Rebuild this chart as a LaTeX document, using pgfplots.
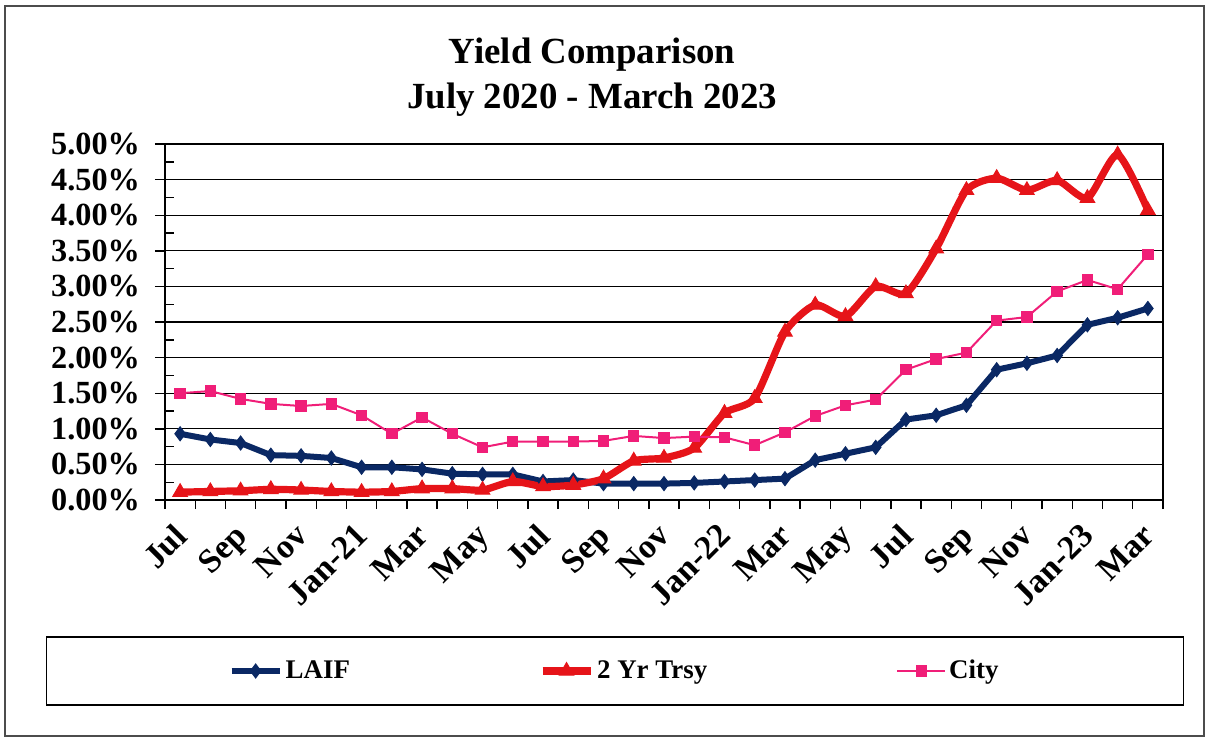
\documentclass[border=0pt]{standalone}
\usepackage{pgfplots}
\pgfplotsset{compat=1.18}
\usepackage{pgfplotstable}
\usepackage{fontspec}
\setmainfont{Liberation Serif}

\definecolor{laif}{RGB}{10,40,100}
\definecolor{trsy}{RGB}{230,20,25}
\definecolor{city}{RGB}{240,30,120}

% month index from Jul 2020 (0) to Mar 2023 (32), yields in percent
\pgfplotstableread{
x laif trsy city
0 0.93 0.11 1.50
1 0.85 0.12 1.53
2 0.80 0.13 1.42
3 0.63 0.15 1.35
4 0.62 0.14 1.32
5 0.59 0.12 1.35
6 0.46 0.11 1.19
7 0.46 0.12 0.93
8 0.43 0.16 1.16
9 0.37 0.16 0.93
10 0.36 0.14 0.74
11 0.36 0.26 0.82
12 0.26 0.19 0.82
13 0.28 0.21 0.82
14 0.23 0.30 0.83
15 0.23 0.55 0.90
16 0.23 0.59 0.87
17 0.24 0.73 0.89
18 0.26 1.22 0.88
19 0.28 1.43 0.77
20 0.30 2.36 0.95
21 0.56 2.74 1.18
22 0.65 2.58 1.33
23 0.74 3.00 1.41
24 1.13 2.90 1.83
25 1.19 3.53 1.98
26 1.33 4.35 2.07
27 1.83 4.52 2.52
28 1.92 4.35 2.57
29 2.03 4.49 2.93
30 2.46 4.24 3.09
31 2.56 4.85 2.96
32 2.69 4.07 3.45
}\yields

\begin{document}
\begin{tikzpicture}
\begin{axis}[
    scale only axis, width=499bp, height=178bp,
    xmin=-0.5, xmax=32.5, ymin=0, ymax=5,
    clip=false,
    axis line style={black, line width=0.7bp},
    xtick={0,2,...,32},
    xticklabels={Jul,Sep,Nov,Jan-21,Mar,May,Jul,Sep,Nov,Jan-22,Mar,May,Jul,Sep,Nov,Jan-23,Mar},
    minor xtick={-0.5,0.5,...,32.5},
    major x tick style={draw=none},
    xtick pos=bottom, xtick align=outside,
    ytick={0,0.5,...,5},
    yticklabels={0.00\%,0.50\%,1.00\%,1.50\%,2.00\%,2.50\%,3.00\%,3.50\%,4.00\%,4.50\%,5.00\%},
    minor ytick={0.25,0.75,...,4.75},
    minor y tick style={xshift=4.5bp},
    ytick pos=left, ytick align=outside,
    major tick length=5bp, minor tick length=4.5bp,
    every tick/.style={black, line width=0.7bp},
    ymajorgrids, grid style={black, line width=0.6bp},
    xticklabel style={font=\bfseries\fontsize{17}{17}\selectfont,
        rotate=45, anchor=north east, xshift=-3.5bp, yshift=2bp},
    yticklabel style={font=\bfseries\fontsize{16.2}{16.2}\selectfont, xshift=-4bp},
    title={Yield Comparison\\July 2020 - March 2023},
    title style={align=center, font=\bfseries\fontsize{18.5}{22.5}\selectfont,
        at={(0.428,1)}, anchor=south, yshift=4.5bp},
    legend columns=3,
    legend style={at={(0.451,0)}, anchor=center, yshift=-85.5bp,
        draw=black, line width=0.7bp, inner xsep=91bp, inner ysep=9.5bp,
        nodes={inner xsep=1.5bp},
        font=\bfseries\fontsize{13.5}{13.5}\selectfont,
        /tikz/every even column/.append style={column sep=93bp}},
    legend image code/.code={\draw[mark repeat=2,mark phase=2]
        plot coordinates {(0bp,0bp) (12bp,0bp) (24bp,0bp)};},
]
\addplot[laif, line width=3bp, mark=diamond*, mark size=3.5bp,
    mark options={solid, line width=0.5bp}] table[x=x, y=laif] {\yields};
\addlegendentry{LAIF}
\addplot[trsy, line width=3.6bp, smooth, tension=0.4, mark=triangle*, mark size=4.2bp,
    mark options={solid, line width=0.5bp}] table[x=x, y=trsy] {\yields};
\addlegendentry{2 Yr Trsy}
\addplot[city, line width=1bp, mark=square*, mark size=2.6bp,
    mark options={solid, line width=0.5bp}] table[x=x, y=city] {\yields};
\addlegendentry{City}
\draw[gray!60!black, line width=1bp]
    ([xshift=-80bp, yshift=-118bp]rel axis cs:0,0) rectangle
    ([xshift=20.5bp, yshift=69bp]rel axis cs:1,1);
\path ([xshift=-82.5bp, yshift=-119bp]rel axis cs:0,0) rectangle
    ([xshift=21.5bp, yshift=72bp]rel axis cs:1,1);
\end{axis}
\end{tikzpicture}
\end{document}
